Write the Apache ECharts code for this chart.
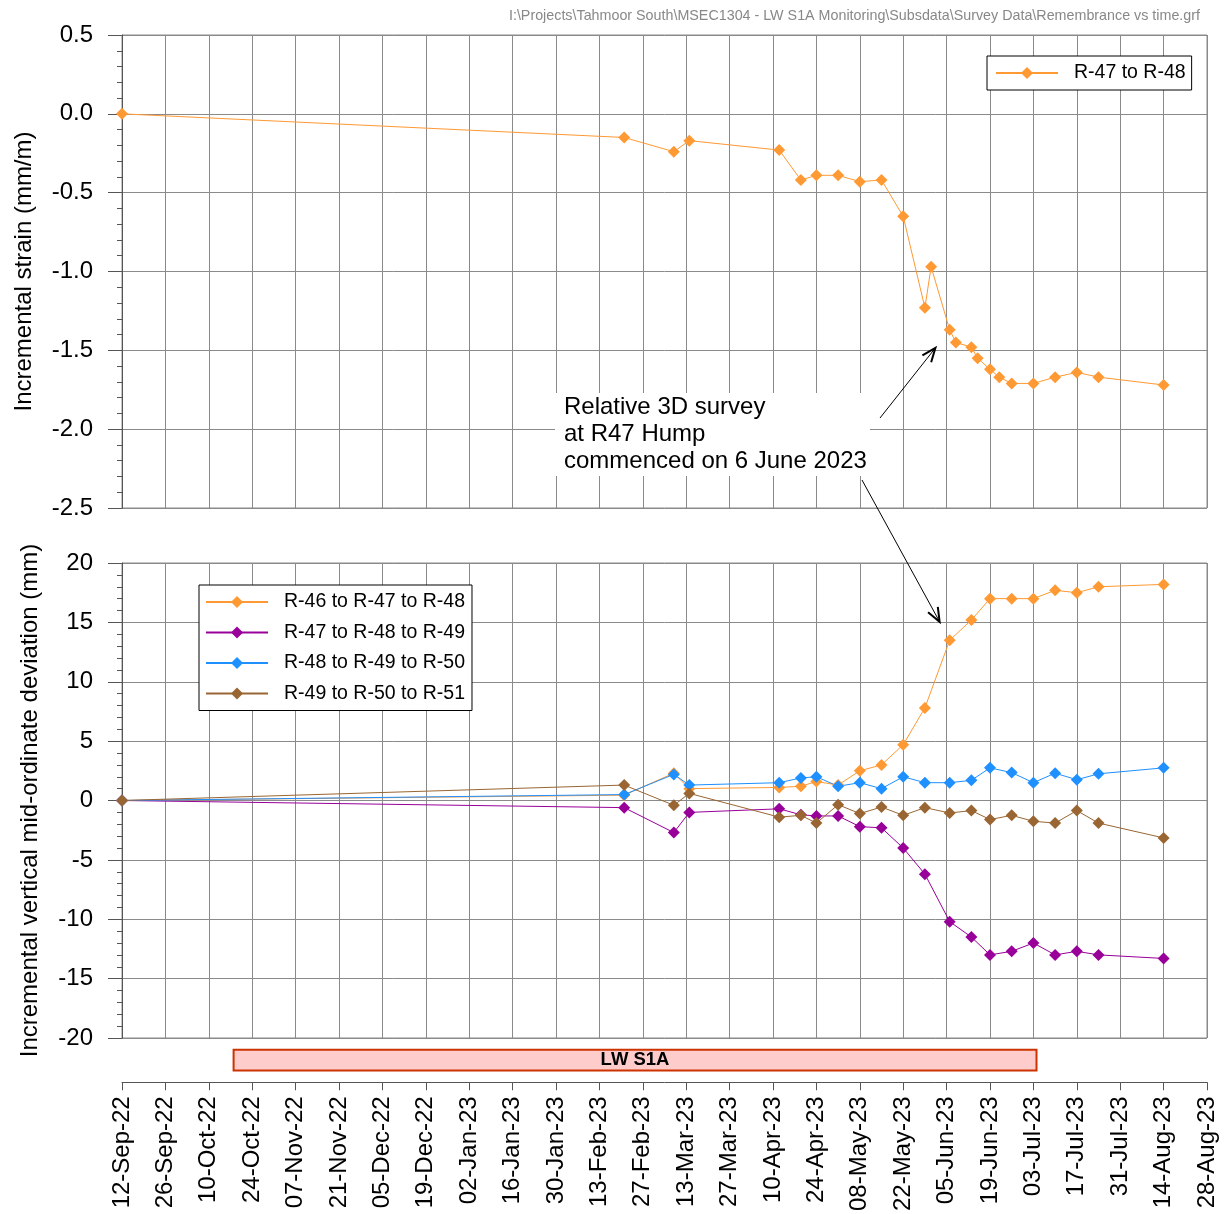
<!DOCTYPE html>
<html>
<head>
<meta charset="utf-8">
<script src="https://cdn.jsdelivr.net/npm/echarts@6/dist/echarts.min.js"></script>
<style>
  html, body { margin: 0; padding: 0; background: #fff; }
  #chart { width: 1227px; height: 1214px; }
</style>
</head>
<body>
<div id="chart"></div>
<script>
// Time range of the monitoring plot
const axisStart = '2022-09-12';
const axisEnd = '2023-08-28';

// Incremental strain between R-47 and R-48 (mm/m)
const strainDates = ['2022-09-12', '2023-02-21', '2023-03-09', '2023-03-14', '2023-04-12', '2023-04-19',
  '2023-04-24', '2023-05-01', '2023-05-08', '2023-05-15', '2023-05-22', '2023-05-29', '2023-05-31',
  '2023-06-06', '2023-06-08', '2023-06-13', '2023-06-15', '2023-06-19', '2023-06-22', '2023-06-26',
  '2023-07-03', '2023-07-10', '2023-07-17', '2023-07-24', '2023-08-14'];
const strainR47R48 = [0, -0.15, -0.24, -0.17, -0.23, -0.42, -0.39, -0.39, -0.43, -0.42, -0.65, -1.23, -0.97,
  -1.37, -1.45, -1.48, -1.55, -1.62, -1.67, -1.71, -1.71, -1.67, -1.64, -1.67, -1.72];

// Incremental vertical mid-ordinate deviation (mm)
const deviationDates = ['2022-09-12', '2023-02-21', '2023-03-09', '2023-03-14', '2023-04-12', '2023-04-19',
  '2023-04-24', '2023-05-01', '2023-05-08', '2023-05-15', '2023-05-22', '2023-05-29', '2023-06-06',
  '2023-06-13', '2023-06-19', '2023-06-26', '2023-07-03', '2023-07-10', '2023-07-17', '2023-07-24', '2023-08-14'];
const devR46R47R48 = [0, 0.45, 2.3, 1.0, 1.1, 1.2, 1.6, 1.3, 2.5, 3.0, 4.7, 7.8, 13.5, 15.2, 17.0, 17.0, 17.0, 17.7, 17.5, 18.0, 18.2];
const devR47R48R49 = [0, -0.6, -2.7, -1.0, -0.7, -1.2, -1.3, -1.3, -2.2, -2.3, -4.0, -6.2, -10.2, -11.5, -13.0, -12.7, -12.0, -13.0, -12.7, -13.0, -13.3];
const devR48R49R50 = [0, 0.5, 2.2, 1.3, 1.5, 1.9, 2.0, 1.2, 1.5, 1.0, 2.0, 1.5, 1.5, 1.7, 2.75, 2.35, 1.5, 2.3, 1.75, 2.25, 2.75];
const devR49R50R51 = [0, 1.3, -0.4, 0.6, -1.4, -1.25, -1.9, -0.35, -1.1, -0.55, -1.25, -0.6, -1.05, -0.85, -1.6, -1.25, -1.75, -1.9, -0.85, -1.9, -3.15];

// Series names
const strainName = 'R-47 to R-48';
const deviationNames = ['R-46 to R-47 to R-48', 'R-47 to R-48 to R-49', 'R-48 to R-49 to R-50', 'R-49 to R-50 to R-51'];

// Longwall extraction period
const lwLabel = 'LW S1A';
const lwStart = '2022-10-18';
const lwEnd = '2023-07-04';

// Annotated survey date
const surveyDate = '2023-06-06';
const surveyNote = ['Relative 3D survey', 'at R47 Hump', 'commenced on 6 June 2023'];
const filePath = 'I:\\Projects\\Tahmoor South\\MSEC1304 - LW S1A Monitoring\\Subsdata\\Survey Data\\Remembrance vs time.grf';

const FONT = "'Liberation Sans', Arial, sans-serif";
const COLORS = { orange: '#ff9933', purple: '#990099', blue: '#1e90ff', brown: '#996633' };
const MONTHS = ['Jan', 'Feb', 'Mar', 'Apr', 'May', 'Jun', 'Jul', 'Aug', 'Sep', 'Oct', 'Nov', 'Dec'];
const DAY = 86400000;

function utc(s) {
  const p = s.split('-').map(Number);
  return Date.UTC(p[0], p[1] - 1, p[2]);
}
// x values are days elapsed since the axis start
function dayOf(s) { return Math.round((utc(s) - utc(axisStart)) / DAY); }
function fmtDay(v) {
  const d = new Date(utc(axisStart) + v * DAY);
  const dd = String(d.getUTCDate()).padStart(2, '0');
  const yy = String(d.getUTCFullYear() % 100).padStart(2, '0');
  return dd + '-' + MONTHS[d.getUTCMonth()] + '-' + yy;
}
function pairs(dates, vals) { return dates.map((d, i) => [dayOf(d), vals[i]]); }

const xMax = dayOf(axisEnd);
const gridColor = '#8a8a8a';
const axisColor = '#555';

function plotX(gi) {
  return {
    type: 'value', gridIndex: gi, min: 0, max: xMax, interval: 14,
    axisLine: { show: false }, axisTick: { show: false }, axisLabel: { show: false },
    splitLine: { show: true, lineStyle: { color: gridColor, width: 1 } }
  };
}
function plotY(gi, min, max, interval, name, gap, fmt) {
  return {
    type: 'value', gridIndex: gi, min: min, max: max, interval: interval,
    name: name, nameLocation: 'middle', nameGap: gap, nameRotate: 90,
    nameTextStyle: { fontSize: 24, color: '#000', fontFamily: FONT },
    axisLine: { show: true, onZero: false, lineStyle: { color: axisColor, width: 1 } },
    axisTick: { show: true, inside: false, length: 14, lineStyle: { color: axisColor } },
    minorTick: { show: true, splitNumber: 5, length: 5, lineStyle: { color: axisColor } },
    axisLabel: { fontSize: 24, color: '#000', fontFamily: FONT, margin: 29, formatter: fmt },
    splitLine: { show: true, lineStyle: { color: gridColor, width: 1 } }
  };
}
function lineSeries(name, color, data, gi) {
  return {
    name: name, type: 'line', xAxisIndex: gi, yAxisIndex: gi, data: data,
    symbol: 'diamond', symbolSize: 12, showSymbol: true,
    lineStyle: { color: color, width: 1 }, itemStyle: { color: color },
    emphasis: { disabled: true }
  };
}
const legendText = { fontSize: 19.5, color: '#000', fontFamily: FONT, padding: [0, 0, 0, 11] };

const chart = echarts.init(document.getElementById('chart'), null, { renderer: 'canvas' });

const option = {
  animation: false,
  backgroundColor: '#fff',
  grid: [
    { left: 122, top: 35, width: 1085, height: 473, show: true, borderColor: gridColor, borderWidth: 1 },
    { left: 122, top: 563, width: 1085, height: 475, show: true, borderColor: gridColor, borderWidth: 1 },
    { left: 122, top: 1040, width: 1085, height: 43 }
  ],
  xAxis: [
    plotX(0),
    plotX(1),
    {
      type: 'value', gridIndex: 2, min: 0, max: xMax, interval: 14, position: 'bottom',
      axisLine: { show: true, onZero: false, lineStyle: { color: axisColor, width: 1 } },
      axisTick: { show: true, inside: false, length: 8, lineStyle: { color: axisColor } },
      axisLabel: { rotate: 90, fontSize: 24, color: '#000', fontFamily: FONT, margin: 14, formatter: fmtDay, hideOverlap: false },
      splitLine: { show: false }
    }
  ],
  yAxis: [
    plotY(0, -2.5, 0.5, 0.5, 'Incremental strain (mm/m)', 86, v => v.toFixed(1)),
    plotY(1, -20, 20, 5, 'Incremental vertical mid-ordinate deviation (mm)', 80, v => String(v)),
    { type: 'value', gridIndex: 2, min: 0, max: 1, show: false }
  ],
  legend: [
    {
      data: [strainName], orient: 'vertical', left: 987, top: 56,
      itemWidth: 62, itemHeight: 15, padding: [7, 6, 7, 8],
      borderColor: '#000', borderWidth: 1, backgroundColor: '#fff',
      textStyle: legendText, selectedMode: false
    },
    {
      data: deviationNames, orient: 'vertical', left: 199, top: 585,
      itemWidth: 62, itemHeight: 15, itemGap: 10.5, padding: [7, 7, 7, 6],
      borderColor: '#000', borderWidth: 1, backgroundColor: '#fff',
      textStyle: legendText, selectedMode: false
    }
  ],
  series: [
    lineSeries(strainName, COLORS.orange, pairs(strainDates, strainR47R48), 0),
    lineSeries(deviationNames[0], COLORS.orange, pairs(deviationDates, devR46R47R48), 1),
    lineSeries(deviationNames[1], COLORS.purple, pairs(deviationDates, devR47R48R49), 1),
    lineSeries(deviationNames[2], COLORS.blue, pairs(deviationDates, devR48R49R50), 1),
    lineSeries(deviationNames[3], COLORS.brown, pairs(deviationDates, devR49R50R51), 1),
    {
      // Longwall extraction bar
      type: 'custom', xAxisIndex: 2, yAxisIndex: 2,
      data: [[dayOf(lwStart), dayOf(lwEnd)]],
      renderItem: function (params, api) {
        const p0 = api.coord([api.value(0), 0.77]);
        const p1 = api.coord([api.value(1), 0.28]);
        return {
          type: 'group',
          children: [
            {
              type: 'rect',
              shape: { x: p0[0], y: p0[1], width: p1[0] - p0[0], height: p1[1] - p0[1] },
              style: { fill: '#ffcccc', stroke: '#cc3300', lineWidth: 2 }
            },
            {
              type: 'text',
              style: {
                text: lwLabel, x: (p0[0] + p1[0]) / 2, y: (p0[1] + p1[1]) / 2,
                align: 'center', verticalAlign: 'middle',
                font: 'bold 18.5px ' + FONT, fill: '#000'
              }
            }
          ]
        };
      },
      silent: true
    }
  ]
};
chart.setOption(option);

// Annotation: note box and arrows to the survey-date points in both panels
function arrow(tail, target, shorten) {
  const dx = target[0] - tail[0], dy = target[1] - tail[1];
  const len = Math.hypot(dx, dy);
  const ux = dx / len, uy = dy / len;
  const tip = [target[0] - ux * shorten, target[1] - uy * shorten];
  const hl = 15, ang = 0.38;
  const wing = s => [
    tip[0] - hl * (ux * Math.cos(s * ang) - uy * Math.sin(s * ang)),
    tip[1] - hl * (uy * Math.cos(s * ang) + ux * Math.sin(s * ang))
  ];
  return [
    { type: 'line', shape: { x1: tail[0], y1: tail[1], x2: tip[0], y2: tip[1] }, style: { stroke: '#000', lineWidth: 1 }, z: 100 },
    { type: 'polyline', shape: { points: [wing(1), tip, wing(-1)] }, style: { stroke: '#000', lineWidth: 2, fill: null }, z: 100 }
  ];
}

const sx = dayOf(surveyDate);
const topPt = chart.convertToPixel({ seriesIndex: 0 }, [sx, strainR47R48[strainDates.indexOf(surveyDate)]]);
const botPt = chart.convertToPixel({ seriesIndex: 1 }, [sx, devR46R47R48[deviationDates.indexOf(surveyDate)]]);

chart.setOption({
  graphic: [
    {
      type: 'text', right: 27, top: 9, z: 100,
      style: { text: filePath, font: '14.3px ' + FONT, fill: '#888' }
    },
    {
      type: 'rect', z: 90, shape: { x: 555, y: 393, width: 315, height: 83 },
      style: { fill: '#fff' }
    },
    {
      type: 'text', z: 100, x: 564, y: 394,
      style: { text: surveyNote.join('\n'), font: '24px ' + FONT, fill: '#000', lineHeight: 27 }
    }
  ].concat(arrow([880, 418], topPt, 23), arrow([862, 480], botPt, 21))
});
</script>
</body>
</html>
